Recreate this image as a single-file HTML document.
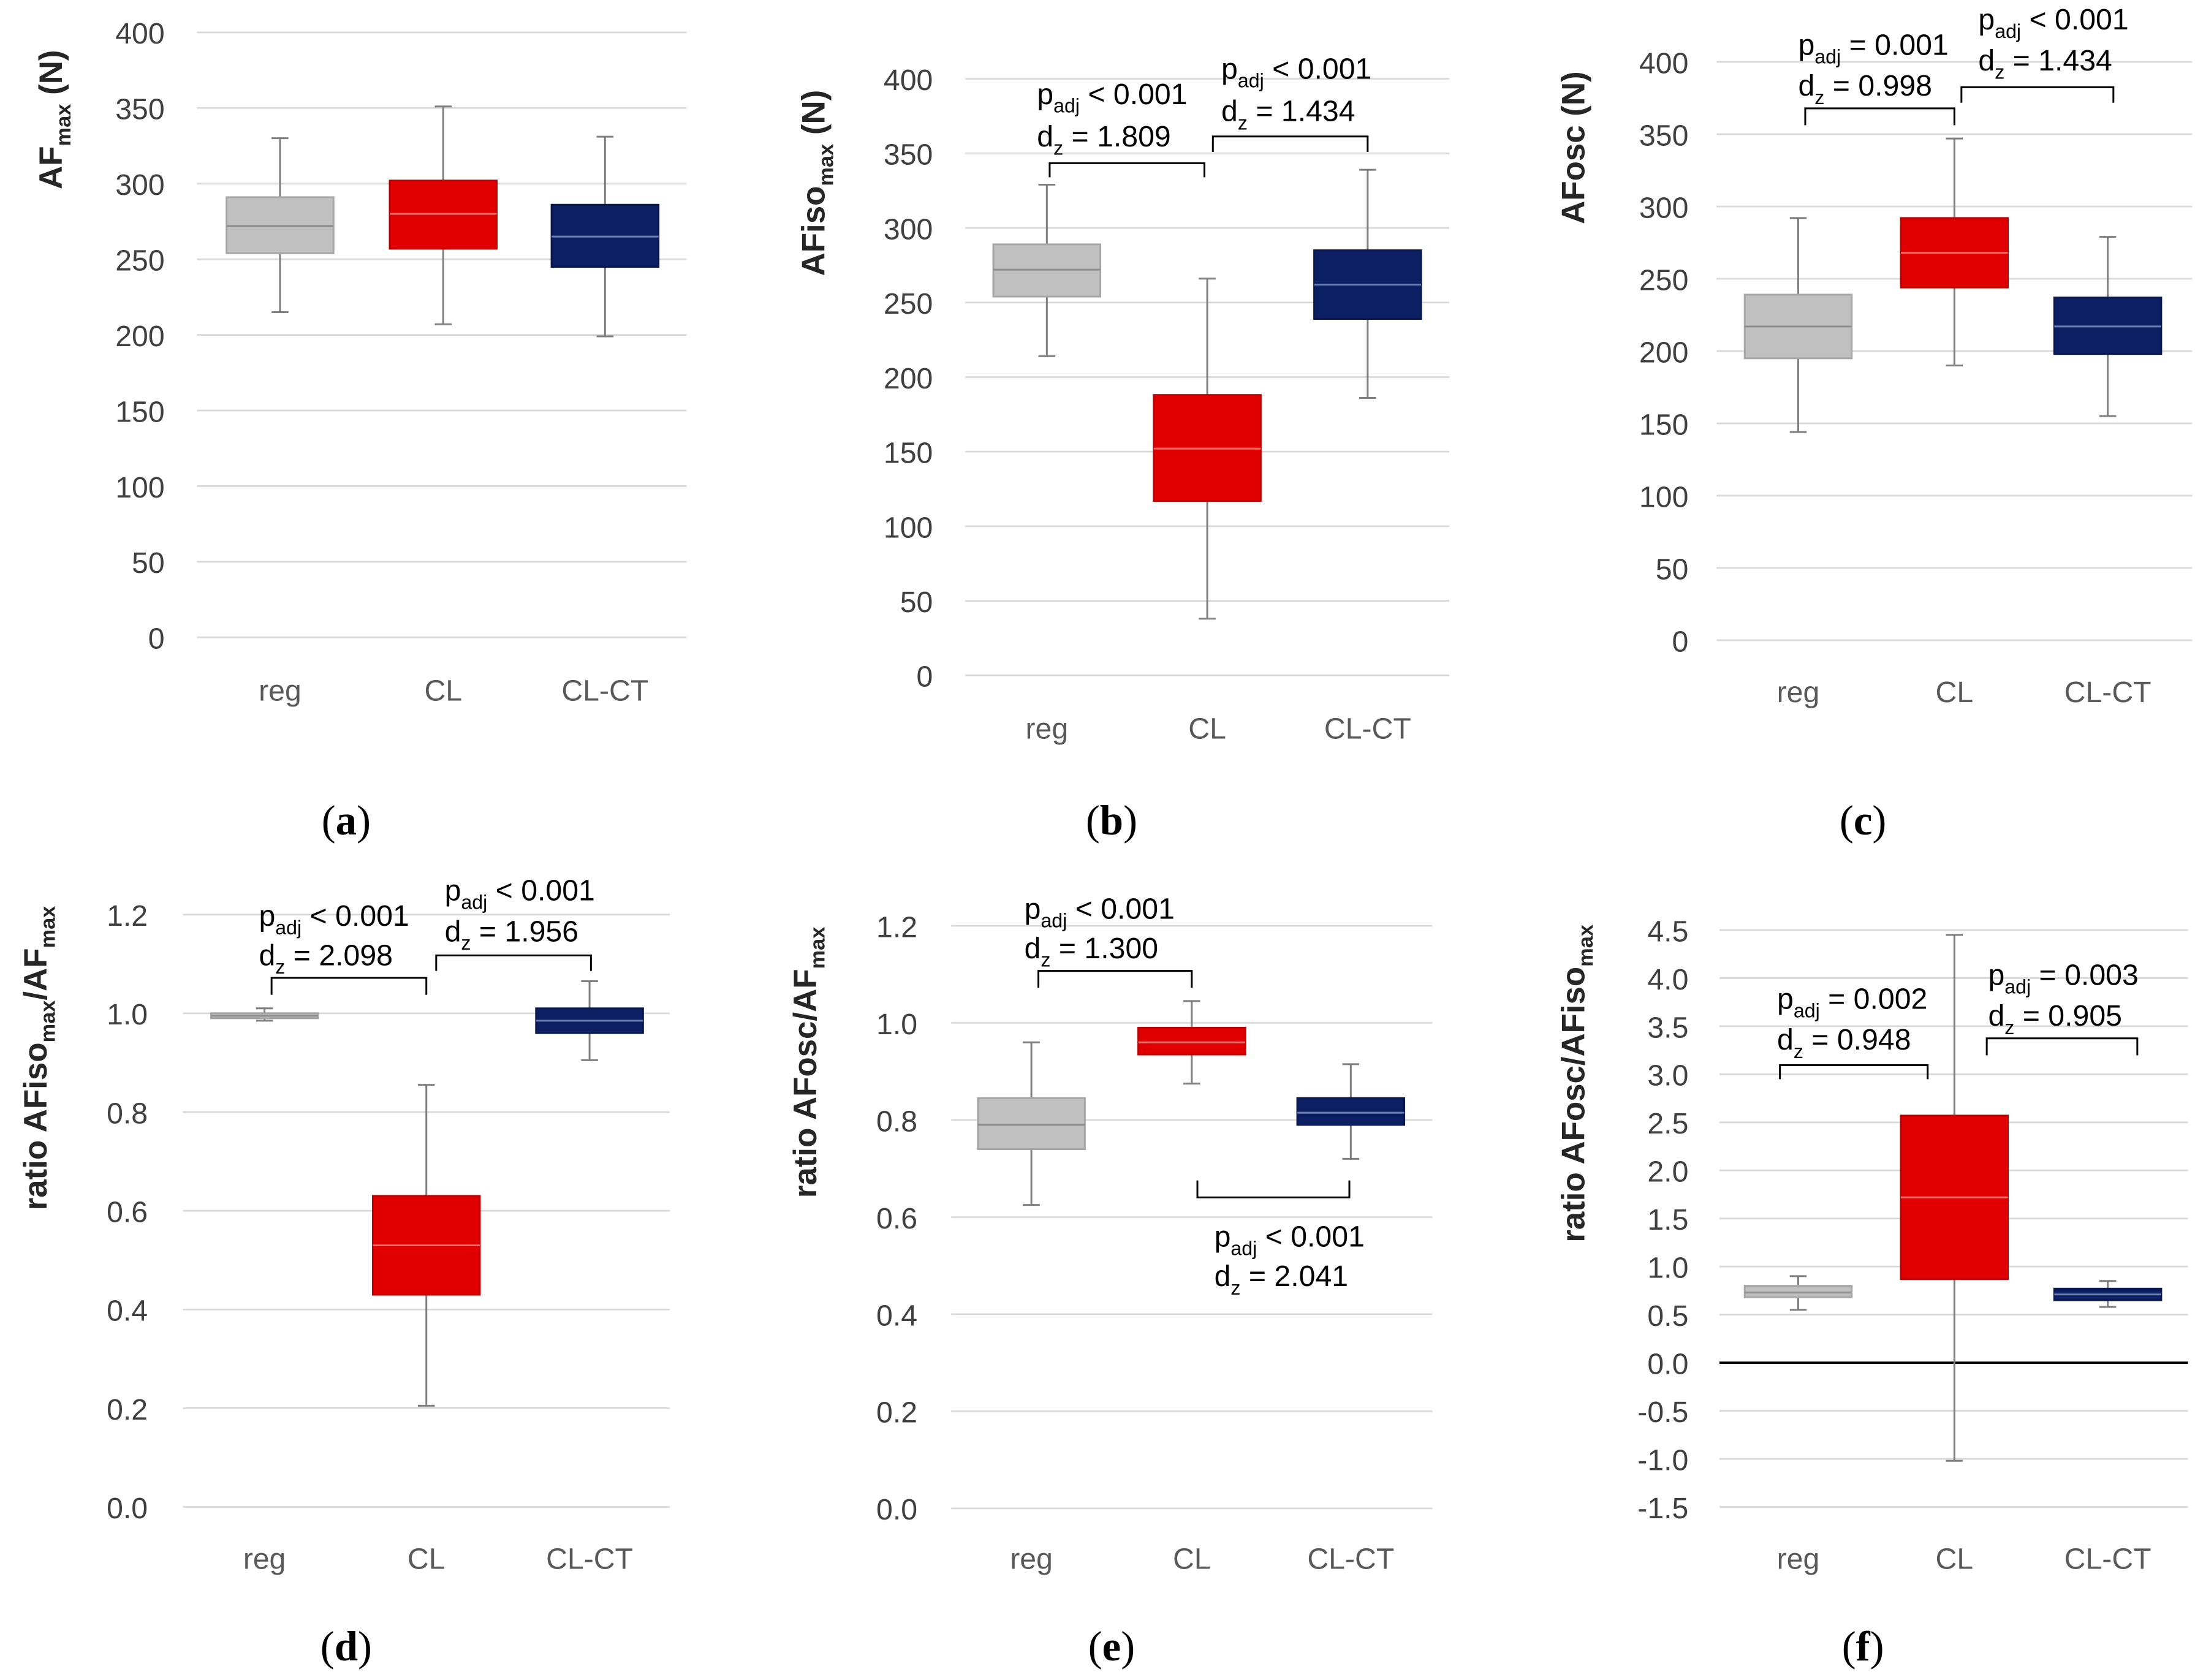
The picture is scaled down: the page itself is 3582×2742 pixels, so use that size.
<!DOCTYPE html>
<html><head><meta charset="utf-8"><style>
html,body{margin:0;padding:0;background:#fff;}
svg{display:block;}
text{font-family:"Liberation Sans",sans-serif;}
</style></head><body>
<svg id="fig" width="3582" height="2742" viewBox="0 0 1560 1194" preserveAspectRatio="none" xmlns="http://www.w3.org/2000/svg"></svg>
<script>
const categories = ["reg","CL","CL-CT"];
// [whiskerLow, q1, median, q3, whiskerHigh] per category
const panelA = [[215,254,272,291,330],[207,257,280,302,351],[199,245,265,286,331]];
const panelB = [[214,254,272,289,329],[38,117,152,188,266],[186,239,262,285,339]];
const panelC = [[144,195,217,239,292],[190,244,268,292,347],[155,198,217,237,279]];
const panelD = [[0.985,0.99,0.995,1.0,1.01],[0.205,0.43,0.53,0.63,0.855],[0.905,0.96,0.985,1.01,1.065]];
const panelE = [[0.625,0.74,0.79,0.845,0.96],[0.875,0.935,0.96,0.99,1.045],[0.72,0.79,0.815,0.845,0.915]];
const panelF = [[0.55,0.68,0.73,0.8,0.9],[-1.02,0.87,1.72,2.57,4.45],[0.58,0.65,0.71,0.77,0.85]];
const ticksA = [0,50,100,150,200,250,300,350,400];
const ticksD = [0.0,0.2,0.4,0.6,0.8,1.0,1.2];
const ticksF = [-1.5,-1.0,-0.5,0.0,0.5,1.0,1.5,2.0,2.5,3.0,3.5,4.0,4.5];

const svg = document.getElementById('fig');
const NS = 'http://www.w3.org/2000/svg';
function mk(tag, attrs, parent){const e=document.createElementNS(NS,tag);for(const k in attrs)e.setAttribute(k,attrs[k]);(parent||svg).appendChild(e);return e;}
const fills=['#c0c0c0','#e00000','#0c1f63'];
const strokes=['#a6a6a6','#c00000','#0a1850'];
const meds=['#8c8c8c','#f07070','#6d7fae'];

function panel(cfg){
  const g=mk('g',{});
  
  
  const vmin=cfg.ticks[0], vmax=cfg.ticks[cfg.ticks.length-1];
  const y=v=>cfg.y0+(v-vmin)/(vmax-vmin)*(cfg.y1-cfg.y0);
  cfg.ticks.forEach(t=>{
    const ln=mk('line',{x1:cfg.gx0,x2:cfg.gx1,y1:y(t),y2:y(t),stroke:(cfg.zero&&t===0)?'#000':'#d9d9d9','stroke-width':(cfg.zero&&t===0)?1.6:1.2},g);
    
    
    const tx=mk('text',{x:cfg.lx,y:y(t)+8,'text-anchor':'end','font-size':21,fill:'#404040'},g);
    tx.textContent=cfg.dec?t.toFixed(1):String(t);
    
    
  });
  cfg.data.forEach((d,i)=>{
    const cx=cfg.cx[i], w=76;
    const bg=mk('g',{},g);
    
    
    mk('line',{x1:cx,x2:cx,y1:y(d[0]),y2:y(d[4]),stroke:'#7f7f7f','stroke-width':1.3},bg);
    mk('line',{x1:cx-6,x2:cx+6,y1:y(d[0]),y2:y(d[0]),stroke:'#7f7f7f','stroke-width':1.3},bg);
    mk('line',{x1:cx-6,x2:cx+6,y1:y(d[4]),y2:y(d[4]),stroke:'#7f7f7f','stroke-width':1.3},bg);
    mk('rect',{x:cx-w/2,y:y(d[3]),width:w,height:y(d[1])-y(d[3]),fill:fills[i],stroke:strokes[i],'stroke-width':1.3},bg);
    mk('line',{x1:cx-w/2,x2:cx+w/2,y1:y(d[2]),y2:y(d[2]),stroke:meds[i],'stroke-width':1.3},bg);
    const ct=mk('text',{x:cx,y:cfg.caty,'text-anchor':'middle','font-size':21,fill:'#595959'},g);
    ct.textContent=categories[i];
    
    
  });
  const tt=mk('text',{transform:`translate(${cfg.tx},${cfg.ty}) rotate(-90)`,'text-anchor':'middle','font-size':23,'font-weight':'bold',fill:'#262626'},g);
  tt.innerHTML=cfg.title;
  
  
  const pl=mk('text',{x:cfg.px,y:cfg.py,'text-anchor':'middle','font-size':30,fill:'#000',style:'font-family:"Liberation Serif",serif'},g);
  pl.innerHTML='(<tspan font-weight="bold">'+cfg.plabel+'</tspan>)';
  
  
  (cfg.ann||[]).forEach(a=>{
    const ag=mk('g',{},g);
    
    
    mk('path',{d:`M${a.x0},${a.ye} V${a.yb} H${a.x1} V${a.ye}`,fill:'none',stroke:'#000','stroke-width':1.3},ag);
    const t1=mk('text',{x:a.tx,y:a.t1,'font-size':21,fill:'#000'},ag);
    t1.innerHTML=`p<tspan font-size="14" dy="6">adj</tspan><tspan dy="-6"> ${a.p}</tspan>`;
    const t2=mk('text',{x:a.tx,y:a.t2,'font-size':21,fill:'#000'},ag);
    t2.innerHTML=`d<tspan font-size="14" dy="6">z</tspan><tspan dy="-6"> = ${a.d}</tspan>`;
  });
}
const sub=(s)=>`<tspan font-size="15" dy="6">${s}</tspan><tspan dy="-6">`;
panel({name:'panel-a',data:panelA,ticks:ticksA,y0:453,y1:23,gx0:140,gx1:488,lx:117,cx:[199,315,430],caty:498,
  title:`AF${sub('max')} (N)</tspan>`,tx:44,ty:85,plabel:'a',px:246,py:593});
panel({name:'panel-b',data:panelB,ticks:ticksA,y0:480,y1:56,gx0:686,gx1:1030,lx:663,cx:[744,858,972],caty:525,
  title:`AFiso${sub('max')} (N)</tspan>`,tx:586,ty:130,plabel:'b',px:790,py:593,
  ann:[{x0:746,x1:856,yb:116,ye:126,tx:737,t1:74,t2:104,p:'&lt; 0.001',d:'1.809'},
       {x0:862,x1:972,yb:97,ye:108,tx:868,t1:56,t2:86,p:'&lt; 0.001',d:'1.434'}]});
panel({name:'panel-c',data:panelC,ticks:ticksA,y0:455,y1:44,gx0:1220,gx1:1558,lx:1200,cx:[1278,1389,1498],caty:499,
  title:`AFosc (N)`,tx:1126,ty:105,plabel:'c',px:1324,py:593,
  ann:[{x0:1283,x1:1389,yb:77,ye:89,tx:1278,t1:39,t2:68,p:'= 0.001',d:'0.998'},
       {x0:1394,x1:1502,yb:62,ye:73,tx:1406,t1:21,t2:50,p:'&lt; 0.001',d:'1.434'}]});
panel({name:'panel-d',data:panelD,ticks:ticksD,dec:true,y0:1071,y1:650,gx0:130,gx1:476,lx:105,cx:[188,303,419],caty:1115,
  title:`ratio AFiso${sub('max')}/AF${sub('max')}</tspan></tspan>`,tx:33,ty:752,plabel:'d',px:246,py:1180,
  ann:[{x0:193,x1:303,yb:695,ye:707,tx:184,t1:658,t2:686,p:'&lt; 0.001',d:'2.098'},
       {x0:310,x1:420,yb:679,ye:690,tx:316,t1:640,t2:669,p:'&lt; 0.001',d:'1.956'}]});
panel({name:'panel-e',data:panelE,ticks:ticksD,dec:true,y0:1072,y1:658,gx0:676,gx1:1018,lx:652,cx:[733,847,960],caty:1115,
  title:`ratio AFosc/AF${sub('max')}</tspan>`,tx:580,ty:755,plabel:'e',px:790,py:1180,
  ann:[{x0:738,x1:847,yb:690,ye:702,tx:728,t1:653,t2:681,p:'&lt; 0.001',d:'1.300'},
       {x0:851,x1:959,yb:851,ye:839,tx:863,t1:886,t2:914,p:'&lt; 0.001',d:'2.041'}]});
panel({name:'panel-f',data:panelF,ticks:ticksF,dec:true,zero:true,y0:1071,y1:661,gx0:1222,gx1:1555,lx:1200,cx:[1278,1389,1498],caty:1115,
  title:`ratio AFosc/AFiso${sub('max')}</tspan>`,tx:1126,ty:770,plabel:'f',px:1324,py:1180,
  ann:[{x0:1265,x1:1370,yb:757,ye:767,tx:1263,t1:717,t2:746,p:'= 0.002',d:'0.948'},
       {x0:1412,x1:1519,yb:738,ye:750,tx:1413,t1:700,t2:729,p:'= 0.003',d:'0.905'}]});
</script>
</body></html>
